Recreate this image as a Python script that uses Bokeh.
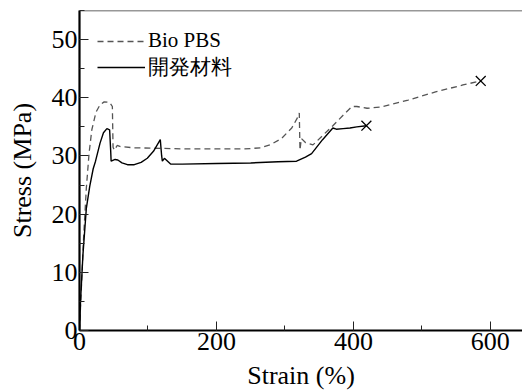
from bokeh.plotting import figure
from bokeh.models import Range1d, Span, Legend, LegendItem, SingleIntervalTicker
from bokeh.embed import file_html
from bokeh.resources import INLINE

# Data
pbs_strain = [0, 3, 6, 10, 14, 18, 24, 30, 36, 44, 48, 49, 51, 55, 60, 80, 120, 160, 200, 240,
              265, 280, 295, 310, 318, 321, 322, 324, 330, 341, 355, 370, 385, 398, 405, 420,
              440, 480, 520, 560, 586]
pbs_stress = [0, 8, 16, 24.5, 30.5, 34.5, 37.5, 38.8, 39.3, 39.2, 38.5, 31.5, 31.0, 31.8, 31.6,
              31.4, 31.3, 31.2, 31.2, 31.2, 31.4, 32.0, 33.0, 34.8, 36.5, 37.4, 31.0, 33.0, 32.3,
              31.9, 33.5, 35.2, 37.0, 38.5, 38.5, 38.2, 38.4, 39.6, 41.0, 42.2, 42.9]

dev_strain = [0, 1.5, 5, 10, 15, 20, 23.4, 30, 35, 40, 44, 45.5, 46.2, 52, 56, 62, 70, 80, 90,
              99, 108, 118, 120, 121, 124, 133, 150, 200, 250, 290, 317, 330, 339, 355, 370,
              375, 385, 395, 405, 419]
dev_stress = [0, 5, 13, 21, 24.8, 27.8, 29.1, 32.2, 34.0, 34.7, 34.5, 31, 29.1, 29.4, 29.3, 28.8,
              28.5, 28.5, 28.9, 29.6, 30.8, 32.8, 30.0, 29.1, 29.6, 28.6, 28.6, 28.7, 28.8, 29.0,
              29.1, 29.8, 30.4, 32.8, 34.8, 34.6, 34.7, 34.8, 35.0, 35.2]

series_names = ["Bio PBS", "開発材料"]

SERIF = "'Liberation Serif', 'Times New Roman', 'DejaVu Serif', serif"

p = figure(width=522, height=392, output_backend="svg", toolbar_location=None,
           x_range=Range1d(0, 647), y_range=Range1d(0, 55),
           min_border_left=79, min_border_right=0, min_border_top=10, min_border_bottom=62)
p.outline_line_color = None
p.grid.grid_line_color = None
p.background_fill_color = "white"
p.border_fill_color = "white"

r_pbs = p.line(pbs_strain, pbs_stress, line_color="#555555", line_width=1.3, line_dash="6 4")
r_dev = p.line(dev_strain, dev_stress, line_color="black", line_width=1.4)
p.scatter([pbs_strain[-1], dev_strain[-1]], [pbs_stress[-1], dev_stress[-1]],
          marker="x", size=14, line_color="black", line_width=1.3)

p.add_layout(Span(location=55, dimension="width", line_color="#333333", line_width=1.5))

p.xaxis.ticker = SingleIntervalTicker(interval=200, num_minor_ticks=2)
p.yaxis.ticker = SingleIntervalTicker(interval=10, num_minor_ticks=2)

for ax in (p.xaxis[0], p.yaxis[0]):
    ax.axis_line_width = 2.2
    ax.axis_line_color = "black"
    ax.major_tick_in = 9
    ax.major_tick_out = 0
    ax.minor_tick_in = 5
    ax.minor_tick_out = 0
    ax.major_tick_line_color = "#222222"
    ax.minor_tick_line_color = "#222222"
    ax.major_label_text_font = SERIF
    ax.major_label_text_font_size = "26px"
    ax.major_label_text_color = "black"
    ax.major_label_standoff = 2
    ax.axis_label_text_font = SERIF
    ax.axis_label_text_font_size = "26px"
    ax.axis_label_text_font_style = "normal"
    ax.axis_label_text_color = "black"

p.xaxis.axis_label_standoff = 8
p.yaxis.axis_label_standoff = 12
p.xaxis.axis_label = "Strain (%)"
p.yaxis.axis_label = "Stress (MPa)"

legend = Legend(items=[LegendItem(label=series_names[0], renderers=[r_pbs]),
                       LegendItem(label=series_names[1], renderers=[r_dev])],
                location="top_left", margin=18, padding=2, spacing=0,
                glyph_width=48, glyph_height=20, label_height=20, label_standoff=3,
                border_line_color=None, background_fill_alpha=0,
                label_text_font=SERIF, label_text_font_size="21px",
                label_text_line_height=0.7, label_text_color="black")
p.add_layout(legend)

open("out.html", "w").write(file_html(p, INLINE))
